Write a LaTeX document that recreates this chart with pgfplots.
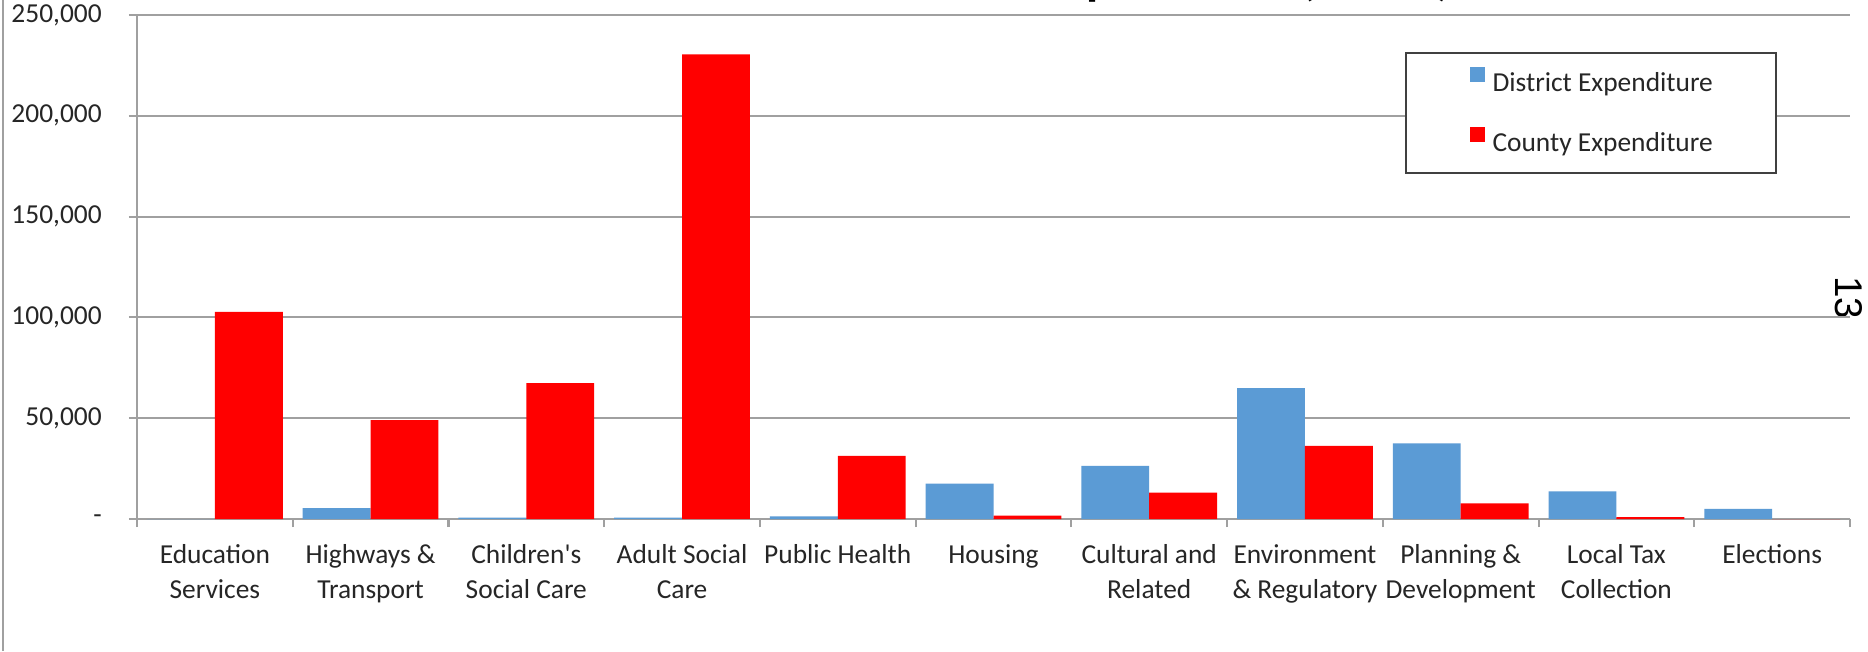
\documentclass[border=0pt]{standalone}
\usepackage{pgfplots}
\pgfplotsset{compat=1.18}
\usepackage{fontspec}
\setmainfont{Carlito}
\newfontfamily\numfont{Liberation Sans}
\definecolor{distblue}{HTML}{5B9BD5}
\definecolor{countyred}{HTML}{FF0000}
\definecolor{axisgray}{HTML}{A0A0A0}
\definecolor{txt}{HTML}{262626}
\begin{document}
\begin{tikzpicture}
\path[use as bounding box, clip] (0,0) rectangle (18.68cm,6.51cm);
\fill[white] (0,0) rectangle (18.68cm,6.51cm);
\draw[axisgray, line width=0.6pt] (0.03cm,0) -- (0.03cm,6.51cm);
\node[anchor=base west, font=\fontsize{14.1}{17}\selectfont\bfseries, inner sep=0pt] at (10.39cm,6.565cm) {Expenditure (£000s)};
\node[rotate=-90, font=\numfont\fontsize{11}{13}\selectfont, inner sep=0pt] at (18.49cm,3.535cm) {13};
\begin{axis}[
  at={(1.37cm,1.32cm)}, anchor=south west,
  scale only axis, width=17.13cm, height=5.04cm,
  ybar=0pt, bar width=0.679cm,
  xmin=-0.5, xmax=10.5, ymin=0, ymax=250000,
  axis lines=left,
  axis line style={-, draw=axisgray, line width=0.6pt},
  tick align=outside, major tick length=0.08cm,
  tick style={draw=axisgray, line width=0.6pt},
  xtick={-0.5,0.5,...,10.5}, xticklabels={},
  extra x ticks={0,1,...,10},
  extra x tick labels={{Education\\Services},{Highways \&\\Transport},{Children\textquotesingle s\\Social Care},{Adult Social\\Care},{Public Health},{Housing},{Cultural and\\Related},{Environment\\\& Regulatory},{Planning \&\\Development},{Local Tax\\Collection},{Elections}},
  extra x tick style={major tick length=0pt, xticklabel style={anchor=north, inner sep=0pt, align=center, yshift=-0.25cm}},
  ytick={0,50000,100000,150000,200000,250000},
  yticklabels={{-},{50,000},{100,000},{150,000},{200,000},{250,000}},
  scaled y ticks=false,
  yticklabel style={anchor=east, inner sep=0pt, xshift=-0.266cm},
  tick label style={font=\fontsize{7.8}{9.9}\selectfont, text=txt},
  ymajorgrids, grid style={draw=axisgray, line width=0.6pt},
  legend image code/.code={\fill[#1] (0cm,0.008cm) rectangle (0.15cm,0.158cm); \path (0cm,0) (0.23cm,0);},
  legend style={at={(0.7402,0.9266)}, anchor=north west, draw=black!75, line width=0.6pt, fill=white,
    inner xsep=0.635cm, inner ysep=0pt, row sep=0pt, column sep=0pt,
    font=\fontsize{7.8}{9.9}\selectfont, text=txt,
    nodes={inner sep=0pt, text height=0.383cm, text depth=0.217cm, anchor=west}},
  legend cell align=left,
]
\addplot[fill=distblue, draw=none] coordinates {(0,0) (1,5400) (2,700) (3,700) (4,1300) (5,17600) (6,26300) (7,64900) (8,37500) (9,13700) (10,5000)};
\addplot[fill=countyred, draw=none] coordinates {(0,102800) (1,49000) (2,67400) (3,230500) (4,31300) (5,1700) (6,13100) (7,36300) (8,7800) (9,1000) (10,0)};
\legend{District Expenditure, County Expenditure}
\end{axis}
\end{tikzpicture}
\end{document}
